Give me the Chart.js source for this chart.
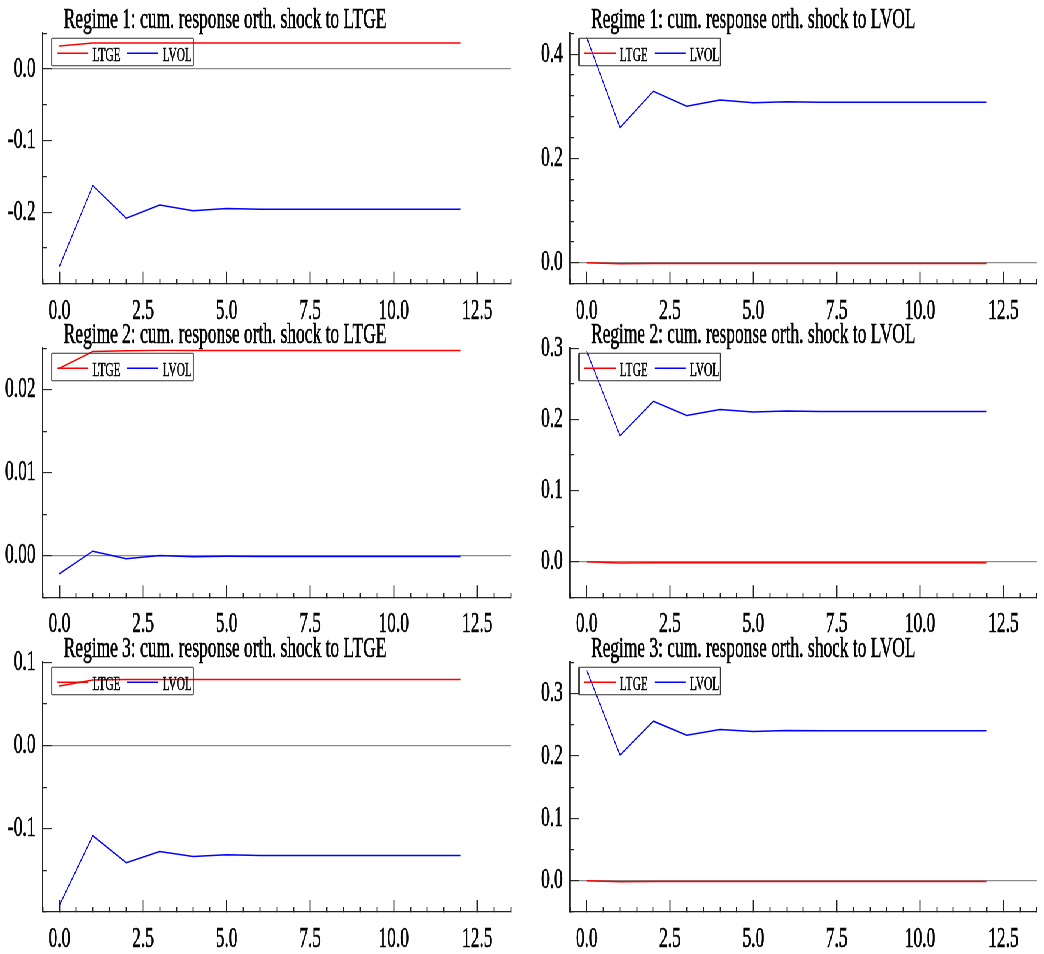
<!DOCTYPE html>
<html>
<head>
<meta charset="utf-8">
<script src="https://cdn.jsdelivr.net/npm/chart.js@4.4.1/dist/chart.umd.min.js"></script>
<style>
html, body { margin: 0; padding: 0; background: #fff; overflow: hidden; }
#page { position: absolute; left: 0; top: 0; width: 1740px; height: 954px; transform-origin: 0 0; }
#page canvas { position: absolute; left: 0; top: 0; }
</style>
</head>
<body>
<div id="page"></div>
<script>
// impulse horizons and series
var horizons = [0, 1, 2, 3, 4, 5, 6, 7, 8, 9, 10, 11, 12]
var seriesNames = ['LTGE', 'LVOL']
var seriesColors = ['#ff0000', '#0000ff']

var titles = [
  'Regime 1: cum. response orth. shock to LTGE',
  'Regime 1: cum. response orth. shock to LVOL',
  'Regime 2: cum. response orth. shock to LTGE',
  'Regime 2: cum. response orth. shock to LVOL',
  'Regime 3: cum. response orth. shock to LTGE',
  'Regime 3: cum. response orth. shock to LVOL'
]

// regime 1
var r1LtgeShockLTGE = [0.0323, 0.0365, 0.0366, 0.0366, 0.0366, 0.0366, 0.0366, 0.0366, 0.0366, 0.0366, 0.0366, 0.0366, 0.0366]
var r1LtgeShockLVOL = [-0.276, -0.163, -0.2085, -0.190, -0.198, -0.195, -0.196, -0.196, -0.196, -0.196, -0.196, -0.196, -0.196]
var r1LvolShockLTGE = [0.0, -0.0018, -0.0013, -0.0014, -0.0013, -0.0013, -0.0013, -0.0013, -0.0013, -0.0013, -0.0013, -0.0013, -0.0013]
var r1LvolShockLVOL = [0.432, 0.259, 0.329, 0.300, 0.312, 0.307, 0.309, 0.308, 0.308, 0.308, 0.308, 0.308, 0.308]
// regime 2
var r2LtgeShockLTGE = [0.0226, 0.0246, 0.0247, 0.02475, 0.02475, 0.02475, 0.02475, 0.02475, 0.02475, 0.02475, 0.02475, 0.02475, 0.02475]
var r2LtgeShockLVOL = [-0.00216, 0.00056, -0.00036, 0.00004, -0.0001, -0.00004, -0.00008, -0.00008, -0.00008, -0.00008, -0.00008, -0.00008, -0.00008]
var r2LvolShockLTGE = [0.0, -0.0019, -0.0014, -0.0015, -0.0014, -0.0014, -0.0014, -0.0014, -0.0014, -0.0014, -0.0014, -0.0014, -0.0014]
var r2LvolShockLVOL = [0.296, 0.177, 0.2254, 0.2056, 0.2141, 0.2103, 0.2117, 0.2113, 0.2113, 0.2113, 0.2113, 0.2113, 0.2113]
// regime 3
var r3LtgeShockLTGE = [0.0716, 0.0788, 0.0792, 0.0792, 0.0792, 0.0792, 0.0792, 0.0792, 0.0792, 0.0792, 0.0792, 0.0792, 0.0792]
var r3LtgeShockLVOL = [-0.192, -0.1084, -0.1408, -0.1272, -0.1332, -0.1312, -0.132, -0.132, -0.132, -0.132, -0.132, -0.132, -0.132]
var r3LvolShockLTGE = [0.0, -0.0016, -0.0011, -0.0012, -0.0011, -0.0011, -0.0011, -0.0011, -0.0011, -0.0011, -0.0011, -0.0011, -0.0011]
var r3LvolShockLVOL = [0.3374, 0.2013, 0.2557, 0.2333, 0.2424, 0.2392, 0.2408, 0.2403, 0.2403, 0.2403, 0.2403, 0.2403, 0.2403]

var panelSeries = [
  [r1LtgeShockLTGE, r1LtgeShockLVOL], [r1LvolShockLTGE, r1LvolShockLVOL],
  [r2LtgeShockLTGE, r2LtgeShockLVOL], [r2LvolShockLTGE, r2LvolShockLVOL],
  [r3LtgeShockLTGE, r3LtgeShockLVOL], [r3LvolShockLTGE, r3LvolShockLVOL]
]

// axes
var xRange = [-0.5, 13.5]
var xMinorStep = 0.5
var xMajorTicks = [0, 2.5, 5, 7.5, 10, 12.5]
var yRanges = [[-0.3, 0.05], [-0.04, 0.44], [-0.005, 0.025], [-0.05, 0.3], [-0.2, 0.1], [-0.05, 0.35]]
var yMinorStep = [0.05, 0.04, 0.005, 0.05, 0.05, 0.05]
var yMajorTicks = [[-0.2, -0.1, 0.0], [0.0, 0.2, 0.4], [0.00, 0.01, 0.02], [0.0, 0.1, 0.2, 0.3], [-0.1, 0.0, 0.1], [0.0, 0.1, 0.2, 0.3]]
var yDecimals = [1, 1, 2, 1, 1, 1]

// page geometry (screen px); the whole page is drawn wide then squeezed horizontally
var squeeze = 0.6
var pageW = 1044, pageH = 954
var colLeft = [42.7, 570], colRight = [510.7, 1036.7]
var rowTop = [33.3, 348.3, 662.3], rowBottom = [283.7, 597.3, 912]
var yAxisW = 80, xAxisH = 40
var serif = '"Liberation Serif", "Times New Roman", serif'

var page = document.getElementById('page')
page.style.transform = 'scaleX(' + squeeze + ')'
var wideW = Math.round(pageW / squeeze)

function findTick(list, v) {
  for (var i = 0; i < list.length; i++) if (Math.abs(list[i] - v) < 1e-7) return list[i]
  return undefined
}

function inkText(ctx, s, x, y) {
  ctx.strokeText(s, x, y)
  ctx.fillText(s, x, y)
}

var panelDecor = {
  id: 'panelDecor',
  afterDraw: function (chart, args, opts) {
    var ctx = chart.ctx, a = chart.chartArea
    ctx.save()
    ctx.fillStyle = '#000'
    ctx.strokeStyle = '#000'
    ctx.lineWidth = 0.6
    ctx.font = '29px ' + serif
    ctx.textBaseline = 'alphabetic'
    ctx.textAlign = 'left'
    inkText(ctx, opts.title, a.left + 35, a.top - 5.5)

    // boxed legend inside the plot, top-left
    ctx.font = '19px ' + serif
    var x0 = a.left + 15, y0 = a.top + 5, h = 27.4
    var x = x0 + 9, yc = y0 + 15
    chart.data.datasets.forEach(function (ds, i) {
      if (i) x += 11
      ctx.strokeStyle = ds.borderColor
      ctx.lineWidth = 1.4
      ctx.beginPath(); ctx.moveTo(x, yc); ctx.lineTo(x + 52, yc); ctx.stroke()
      x += 59
      ctx.strokeStyle = '#000'
      ctx.lineWidth = 0.5
      inkText(ctx, ds.label, x, y0 + 22.6)
      x += ctx.measureText(ds.label).width
    })
    var x1 = x + 2
    ctx.strokeStyle = '#333'
    ctx.lineWidth = 1.1
    ctx.beginPath()
    ctx.moveTo(x0, y0); ctx.lineTo(x1, y0)
    ctx.moveTo(x0, y0 + h); ctx.lineTo(x1, y0 + h)
    ctx.stroke()
    ctx.lineWidth = 1.8
    ctx.beginPath()
    ctx.moveTo(x0, y0); ctx.lineTo(x0, y0 + h)
    ctx.moveTo(x1, y0); ctx.lineTo(x1, y0 + h)
    ctx.stroke()
    ctx.restore()
  }
}

titles.forEach(function (title, p) {
  var col = p % 2, row = Math.floor(p / 2)
  var L = colLeft[col] / squeeze, R = colRight[col] / squeeze
  var T = rowTop[row], B = rowBottom[row]

  var cv = document.createElement('canvas')
  cv.width = wideW; cv.height = pageH
  cv.style.width = wideW + 'px'; cv.style.height = pageH + 'px'
  page.appendChild(cv)

  var datasets = panelSeries[p].map(function (vals, i) {
    return {
      label: seriesNames[i],
      data: horizons.map(function (h, j) { return { x: h, y: vals[j] } }),
      borderColor: seriesColors[i],
      borderWidth: 1.5,
      pointRadius: 0,
      tension: 0,
      fill: false
    }
  })

  new Chart(cv, {
    type: 'line',
    data: { datasets: datasets },
    options: {
      responsive: false,
      animation: false,
      devicePixelRatio: 1,
      events: [],
      layout: { padding: { left: L - yAxisW, right: wideW - R, top: T, bottom: pageH - B - xAxisH } },
      plugins: {
        legend: { display: false },
        title: { display: false },
        tooltip: { enabled: false },
        panelDecor: { title: title }
      },
      scales: {
        x: {
          type: 'linear',
          min: xRange[0], max: xRange[1],
          afterFit: function (s) { s.height = xAxisH; s.paddingLeft = 0; s.paddingRight = 0 },
          ticks: {
            stepSize: xMinorStep, autoSkip: false, maxRotation: 0, padding: 22,
            color: '#000', font: { family: serif, size: 29 },
            textStrokeColor: '#000', textStrokeWidth: 0.6,
            callback: function (v) {
              var m = findTick(xMajorTicks, v)
              return m === undefined ? '' : m.toFixed(1)
            }
          },
          grid: {
            drawOnChartArea: false, drawTicks: true, tickLength: -12,
            tickColor: '#222', tickWidth: 1.8,
            tickBorderDash: function (c) {
              return findTick(xMajorTicks, c.tick.value) === undefined ? [5.3, 100] : []
            }
          },
          border: { color: '#222', width: 1.3 }
        },
        y: {
          min: yRanges[p][0], max: yRanges[p][1],
          afterFit: function (s) { s.width = yAxisW; s.paddingTop = 0; s.paddingBottom = 0 },
          ticks: {
            stepSize: yMinorStep[p], autoSkip: false, padding: 27,
            color: '#000', font: { family: serif, size: 29 },
            textStrokeColor: '#000', textStrokeWidth: 0.6,
            callback: function (v) {
              var m = findTick(yMajorTicks[p], v)
              if (m === undefined) return ''
              if (Math.abs(m) < 1e-12) m = 0
              return m.toFixed(yDecimals[p])
            }
          },
          grid: {
            drawOnChartArea: true, drawTicks: true, tickLength: -15,
            color: function (c) { return Math.abs(c.tick.value) < 1e-9 ? '#8a8a8a' : 'rgba(0,0,0,0)' },
            lineWidth: 1.2,
            tickColor: '#222', tickWidth: 1.1,
            tickBorderDash: function (c) {
              return findTick(yMajorTicks[p], c.tick.value) === undefined ? [0, 8.3, 6.7, 100] : []
            }
          },
          border: { color: '#222', width: 1.8 }
        }
      }
    },
    plugins: [panelDecor]
  })
})
</script>
</body>
</html>
